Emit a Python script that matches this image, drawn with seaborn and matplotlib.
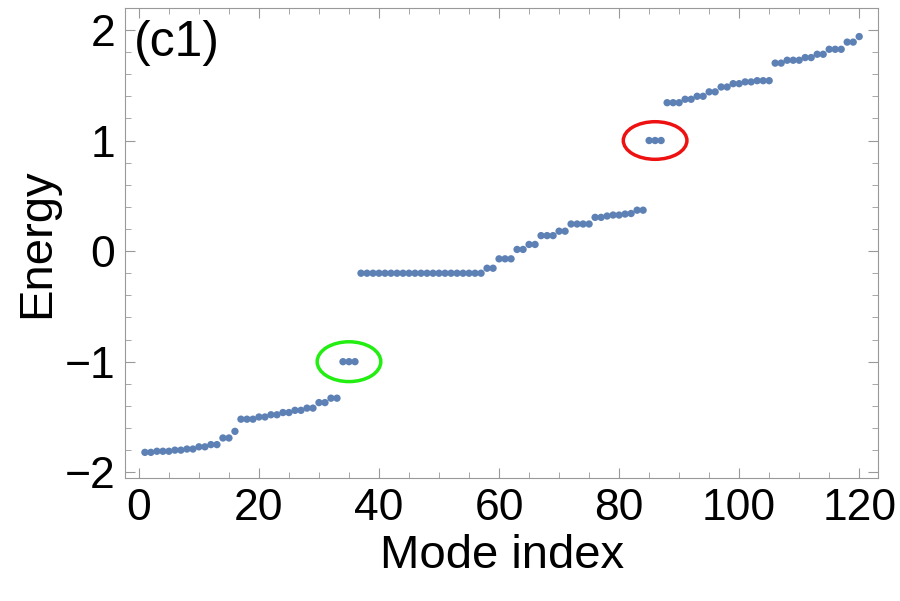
import matplotlib
matplotlib.use("Agg")
import matplotlib.pyplot as plt
from matplotlib.patches import Ellipse
from matplotlib.ticker import MultipleLocator
import seaborn as sns
import pandas as pd

energy = (
    [-1.82, -1.82, -1.81, -1.81, -1.81, -1.80, -1.80, -1.79, -1.79, -1.77, -1.77,
     -1.75, -1.75, -1.69, -1.69, -1.63, -1.52, -1.52, -1.52, -1.50, -1.50, -1.48,
     -1.48, -1.46, -1.46, -1.44, -1.44, -1.42, -1.42, -1.37, -1.37, -1.33, -1.33]
    + [-1.0, -1.0, -1.0]
    + [-0.2] * 21
    + [-0.155, -0.155, -0.07, -0.07, -0.07, 0.015, 0.015, 0.06, 0.06, 0.14, 0.14, 0.14,
       0.18, 0.18, 0.245, 0.245, 0.245, 0.245, 0.305, 0.305, 0.317, 0.326, 0.326,
       0.335, 0.34, 0.37, 0.37]
    + [1.0, 1.0, 1.0]
    + [1.342, 1.342, 1.342, 1.373, 1.373, 1.40, 1.40, 1.44, 1.44, 1.484, 1.484,
       1.514, 1.514, 1.53, 1.53, 1.541, 1.541, 1.541]
    + [1.70, 1.70, 1.726, 1.726, 1.726, 1.75, 1.75, 1.78, 1.78, 1.825, 1.825, 1.825,
       1.89, 1.89, 1.94]
)
mode_index = list(range(1, len(energy) + 1))

df = pd.DataFrame({"Mode index": mode_index, "Energy": energy})

sns.set_style("ticks")
plt.rcParams["font.family"] = ["Liberation Sans", "DejaVu Sans"]
fig = plt.figure(figsize=(9, 6.01), dpi=100)
ax = fig.add_axes([0.139, 0.205, 0.837, 0.782])
sns.scatterplot(data=df, x="Mode index", y="Energy", ax=ax, color="#5E81B5",
                s=28, edgecolor="none", legend=False)
ax.set_xlim(-2.3, 123.2)
ax.set_ylim(-2.05, 2.2)
ax.xaxis.set_major_locator(MultipleLocator(20))
ax.xaxis.set_minor_locator(MultipleLocator(5))
ax.yaxis.set_minor_locator(MultipleLocator(0.2))
ax.tick_params(which="both", direction="in", top=True, right=True, color="#999999",
               labelsize=32, pad=7, labelcolor="black")
ax.tick_params(which="major", length=7)
ax.tick_params(which="minor", length=4)
ax.set_yticks([-2, -1, 0, 1, 2])
ax.set_yticklabels(["\u22122", "\u22121", "0", "1", "2"])
for s in ax.spines.values():
    s.set_color("#999999")
ax.set_xlabel("Mode index", fontsize=34, color="black", labelpad=4)
ax.set_ylabel("Energy", fontsize=34, color="black", labelpad=4)
ax.text(0.012, 0.975, "(c1)", transform=ax.transAxes, fontsize=36, va="top", ha="left",
        color="black")
ax.add_patch(Ellipse((35, -1.0), 10.6, 0.36, fill=False, edgecolor="#22EE11", lw=2.5))
ax.add_patch(Ellipse((86, 1.0), 10.6, 0.34, fill=False, edgecolor="#EE1111", lw=2.5))
fig.savefig("out.png", dpi=100)
